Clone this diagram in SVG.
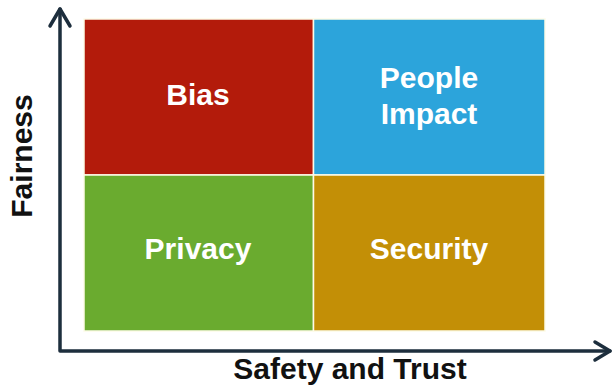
<svg xmlns="http://www.w3.org/2000/svg" width="613" height="390" viewBox="0 0 613 390">
<defs>
<style>
.q{stroke:#fdfbe8;stroke-width:1.5}
.lbl{font-family:"Liberation Sans",Arial,sans-serif;font-weight:bold;font-size:30px;fill:#ffffff;text-anchor:middle}
.ax{font-family:"Liberation Sans",Arial,sans-serif;font-weight:bold;font-size:30px;fill:#111111;text-anchor:middle}
.axis{stroke:#1d2e3d;stroke-width:3.5;fill:none;stroke-linecap:round;stroke-linejoin:round}
</style>
</defs>
<rect width="613" height="390" fill="#ffffff"/>
<g id="bias">
<rect class="q" x="84" y="19" width="229.5" height="156" fill="#b31b0b"/>
<text class="lbl" x="198" y="105">Bias</text>
</g>
<g id="people-impact">
<rect class="q" x="313.5" y="19" width="231.5" height="156" fill="#2ca4db"/>
<text class="lbl" x="429" y="88">People</text>
<text class="lbl" x="429" y="124">Impact</text>
</g>
<g id="privacy">
<rect class="q" x="84" y="175" width="229.5" height="156" fill="#6aab2f"/>
<text class="lbl" x="198" y="259">Privacy</text>
</g>
<g id="security">
<rect class="q" x="313.5" y="175" width="231.5" height="156" fill="#c38f06"/>
<text class="lbl" x="429" y="259">Security</text>
</g>
<g id="connectors">
<polyline class="axis" points="60,9 60,351 610,351"/>
<polyline class="axis" points="50,26 60,9 70,26"/>
<polyline class="axis" points="595,342 610,351 595,360"/>
</g>
<g id="axis-labels">
<text class="ax" x="350" y="379">Safety and Trust</text>
<text class="ax" transform="translate(32,156) rotate(-90)" x="0" y="0">Fairness</text>
</g>
</svg>
